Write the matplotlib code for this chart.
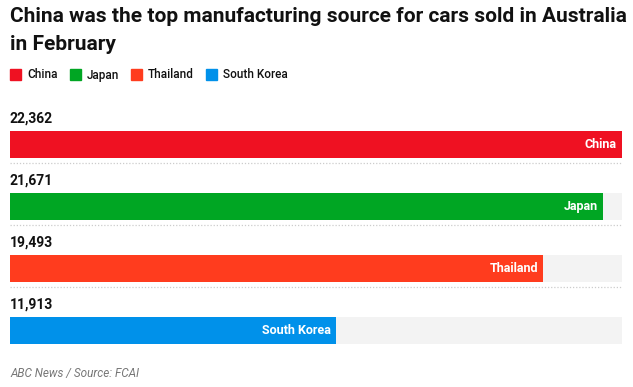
import matplotlib.pyplot as plt

# data
countries = ["China", "Japan", "Thailand", "South Korea"]
sales = [22362, 21671, 19493, 11913]
colors = ["#ef1122", "#00a623", "#ff3c1e", "#0091ea"]

plt.rcParams["font.family"] = ["Roboto", "DejaVu Sans"]

W, H = 633, 387
fig = plt.figure(figsize=(W / 100, H / 100), dpi=100)

# axes for the bars: row i centred at pixel 144.5 + 62*i
top_px, bot_px = 113.5, 361.5
ax = fig.add_axes([10 / W, 1 - bot_px / H, 612 / W, (bot_px - top_px) / H])
ax.set_xlim(0, max(sales))
ax.set_ylim(len(countries) - 0.5, -0.5)
ax.axis("off")

bh = 27 / 62
ypos = list(range(len(countries)))
ax.barh(ypos, [max(sales)] * len(sales), height=bh, color="#f3f3f3", zorder=1)
ax.barh(ypos, sales, height=bh, color=colors, zorder=2)

for i, (name, val) in enumerate(zip(countries, sales)):
    ax.annotate(f"{val:,}", xy=(0, i), xytext=(0, 18.5), textcoords="offset points",
                ha="left", va="center", fontsize=10, fontweight="bold", color="#111111")
    ax.annotate(name, xy=(val, i), xytext=(-4, 0), textcoords="offset points",
                ha="right", va="center", fontsize=9, fontweight="bold", color="white",
                zorder=3)
    if i < len(countries) - 1:
        ax.axhline(i + 18.5 / 62, color="#cccccc", lw=0.9, ls=(0, (1, 1.5)), zorder=0)

# title
fig.text(10 / W, 1 - 17 / H, "China was the top manufacturing source for cars sold in Australia",
         ha="left", va="center", fontsize=15, fontweight="bold", color="#111111")
fig.text(10 / W, 1 - 44 / H, "in February",
         ha="left", va="center", fontsize=15, fontweight="bold", color="#111111")

# legend, laid out left to right
renderer = fig.canvas.get_renderer()
x = 10
for name, c in zip(countries, colors):
    fig.patches.append(plt.Rectangle((x / W, 1 - 80 / H), 11 / W, 11 / H,
                                     transform=fig.transFigure, color=c, figure=fig))
    t = fig.text((x + 17) / W, 1 - 75 / H, name, ha="left", va="center",
                 fontsize=8.5, fontweight="medium", color="#111111")
    x = x + 17 + t.get_window_extent(renderer).width + 12

# source
fig.text(10 / W, 1 - 373 / H, "ABC News / Source: FCAI", ha="left", va="center",
         fontsize=8.5, style="italic", color="#777777")

fig.savefig("out.png", dpi=100)
